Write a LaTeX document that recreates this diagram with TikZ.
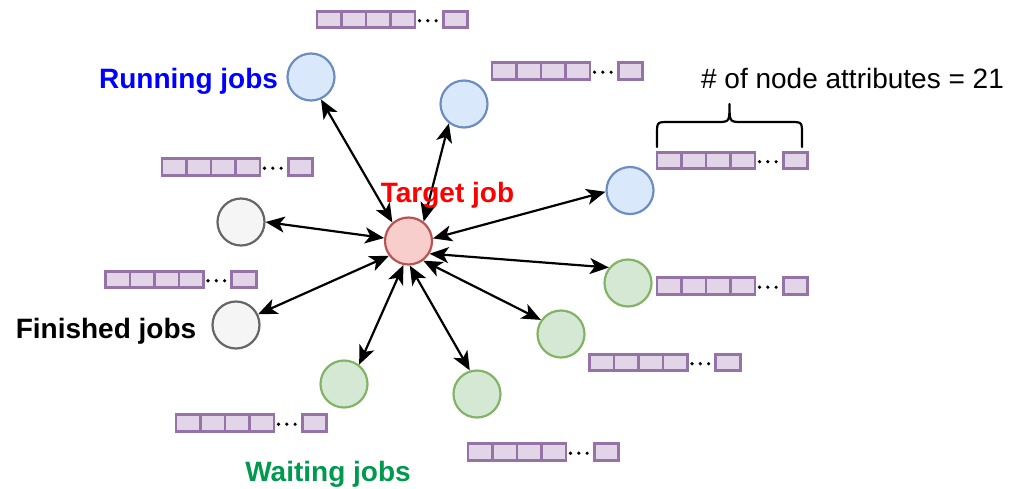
\documentclass[tikz,border=0pt]{standalone}
\usepackage{fontspec}
\setmainfont{Liberation Sans}
\usetikzlibrary{arrows.meta}
\definecolor{runfill}{HTML}{DAE8FC}
\definecolor{runline}{HTML}{6C8EBF}
\definecolor{finfill}{HTML}{F5F5F5}
\definecolor{finline}{HTML}{666666}
\definecolor{waitfill}{HTML}{D5E8D4}
\definecolor{waitline}{HTML}{82B366}
\definecolor{tgtfill}{HTML}{F8CECC}
\definecolor{tgtline}{HTML}{B85450}
\definecolor{attrfill}{HTML}{E1D5E7}
\definecolor{attrline}{HTML}{9673A6}
\definecolor{runtext}{HTML}{0000FF}
\definecolor{tgttext}{HTML}{FF0000}
\definecolor{waittext}{HTML}{00994D}
\newcommand\attrarr[3]{%
  \node[abox] (#1a) at ({#2+12.25},#3) {};
  \node[abox] (#1b) at ({#2+36.75},#3) {};
  \node[abox] (#1c) at ({#2+61.25},#3) {};
  \node[abox] (#1d) at ({#2+85.75},#3) {};
  \node[adot] (#1p) at ({#2+102.5},{#3+1.2}) {};
  \node[adot] (#1q) at ({#2+110.8},{#3+1.2}) {};
  \node[adot] (#1r) at ({#2+119.1},{#3+1.2}) {};
  \node[abox] (#1e) at ({#2+138.5},#3) {};
}
\begin{document}
\begin{tikzpicture}[x=1pt,y=-1pt,
  job/.style={circle,draw,line width=2.2pt,minimum size=47pt,inner sep=0pt},
  runjob/.style={job,fill=runfill,draw=runline},
  finjob/.style={job,fill=finfill,draw=finline},
  waitjob/.style={job,fill=waitfill,draw=waitline},
  tgtjob/.style={job,fill=tgtfill,draw=tgtline},
  abox/.style={rectangle,draw=attrline,fill=attrfill,line width=2.6pt,minimum width=24.5pt,minimum height=16.5pt,inner sep=0pt},
  adot/.style={circle,fill=black,minimum size=3.6pt,inner sep=0pt},
  lbl/.style={font=\fontsize{28}{32}\selectfont\bfseries,inner sep=0pt,anchor=base},
  arr/.style={line width=2.2pt,{Stealth[length=19pt,width=16pt,inset=5pt]}-{Stealth[length=19pt,width=16pt,inset=5pt]}},
  brace/.style={line width=2.2pt,line cap=round,line join=round}]
\useasboundingbox (0,0) rectangle (1014,488);
% job nodes
\node[tgtjob] (t) at (408.5,241) {};
\node[runjob] (r1) at (311,77) {};
\node[runjob] (r2) at (464,104) {};
\node[runjob] (r3) at (630,190.5) {};
\node[finjob] (f1) at (241,222) {};
\node[finjob] (f2) at (236,325) {};
\node[waitjob] (w1) at (628,283) {};
\node[waitjob] (w2) at (561,334) {};
\node[waitjob] (w3) at (344,384) {};
\node[waitjob] (w4) at (477,394) {};
% connectors
\draw[arr] (t.131) -- (r1.-66);
\draw[arr] (t.52) -- (r2.-128);
\draw[arr] (t.6) -- (r3.183);
\draw[arr] (t.173) -- (f1.0);
\draw[arr] (t.217) -- (f2.26);
\draw[arr] (t.-31) -- (w1.141);
\draw[arr] (t.-53) -- (w2.145);
\draw[arr] (t.-87) -- (w4.107);
\draw[arr] (t.-102) -- (w3.52);
% attribute arrays
\attrarr{a1}{317}{19.5}
\attrarr{a2}{492}{71}
\attrarr{a3}{162}{167}
\attrarr{a4}{657}{160.5}
\attrarr{a5}{105.5}{279.5}
\attrarr{a6}{657}{286}
\attrarr{a7}{589.5}{362.5}
\attrarr{a8}{176}{423}
\attrarr{a9}{468}{452}
% brace
\draw[brace] (657,147) -- (657,134) .. controls (657,122) .. (669,122) -- (717,122)
  .. controls (729.5,122) .. (729.5,104) .. controls (729.5,122) .. (742,122)
  -- (790,122) .. controls (802,122) .. (802,134) -- (802,147);
% labels
\node[lbl,text=runtext] (lrun) at (188.5,88) {Running jobs};
\node[lbl,text=tgttext] (ltgt) at (447.5,202) {Target job};
\node[lbl,text=black] (lfin) at (106,338) {Finished jobs};
\node[lbl,text=waittext] (lwait) at (328,481) {Waiting jobs};
\node[font=\fontsize{28}{32}\selectfont,inner sep=0pt,anchor=base] (lattr) at (852.5,88) {\# of node attributes = 21};
\end{tikzpicture}
\end{document}
